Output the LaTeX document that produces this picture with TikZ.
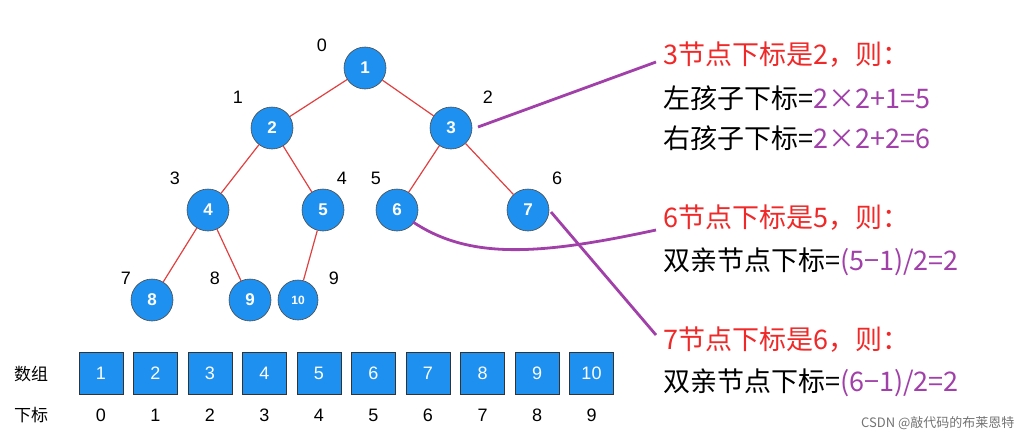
\documentclass[tikz,border=0pt]{standalone}
\usepackage{fontspec}
\setmainfont{Liberation Sans}
\newfontfamily\cjk{Noto Sans CJK SC}
\definecolor{nblue}{HTML}{1E90F0}
\definecolor{nred}{HTML}{F02828}
\definecolor{npur}{HTML}{A040A8}
\definecolor{edred}{HTML}{E04040}
\begin{document}
\begin{tikzpicture}[x=1pt,y=-1pt,
 tn/.style={circle,fill=nblue,draw=black!70,line width=0.6pt,minimum size=42pt,inner sep=0pt,text=white,font=\bfseries\fontsize{17}{17}\selectfont},
 ab/.style={rectangle,fill=nblue,draw=black!80,line width=0.8pt,minimum width=44pt,minimum height=42pt,inner sep=0pt,text=white,font=\fontsize{18}{18}\selectfont},
 idx/.style={font=\fontsize{18}{18}\selectfont},
 ed/.style={edred,line width=1.2pt},
 pl/.style={npur,line width=2.8pt},
 tx/.style={anchor=west,inner sep=0pt,font=\cjk\fontsize{27}{27}\selectfont}]
\useasboundingbox (0,0) rectangle (1031,442);
\node[tn] (n1) at (365,68) {1};
\node[tn] (n2) at (272,128) {2};
\node[tn] (n3) at (451,128) {3};
\node[tn] (n4) at (208,210) {4};
\node[tn] (n5) at (323,210) {5};
\node[tn] (n6) at (397,210) {6};
\node[tn] (n7) at (528,210) {7};
\node[tn] (n8) at (152,300) {8};
\node[tn] (n9) at (250,300) {9};
\node[tn,minimum size=40pt,font=\bfseries\fontsize{12}{12}\selectfont] (n10) at (298,300) {10};
\foreach \a/\b in {1/2,1/3,2/4,2/5,3/6,3/7,4/8,4/9,5/10} \draw[ed] (n\a) -- (n\b);
\foreach \t/\x/\y in {0/322/45,1/238/97,2/488/97,3/175/178,4/342/178,5/376/178,6/557/178,7/126/278,8/215/278,9/334/278}
 \node[idx] (l\t) at (\x,\y) {\t};
\foreach \i [evaluate=\i as \x using 101+54.5*(\i-1), evaluate=\i as \k using int(\i-1)] in {1,...,10} {
 \node[ab] (a\i) at (\x,373) {\i};
 \node[idx] (k\i) at (\x,415) {\k};
}
\node[font=\cjk\fontsize{17}{17}\selectfont] (sz) at (31,374) {数组};
\node[font=\cjk\fontsize{17}{17}\selectfont] (xb) at (31,415) {下标};
\node[tx,text=nred] (t1) at (663,55) {3节点下标是2，则：};
\node[tx] (t2) at (663,98) {左孩子下标=\textcolor{npur}{2×2+1=5}};
\node[tx] (t3) at (663,138) {右孩子下标=\textcolor{npur}{2×2+2=6}};
\node[tx,text=nred] (t4) at (663,218) {6节点下标是5，则：};
\node[tx] (t5) at (663,262) {双亲节点下标=\textcolor{npur}{(5−1)/2=2}};
\node[tx,text=nred] (t6) at (663,340) {7节点下标是6，则：};
\node[tx] (t7) at (663,383) {双亲节点下标=\textcolor{npur}{(6−1)/2=2}};
\coordinate (e1) at (656,62);
\coordinate (e2) at (656,230);
\coordinate (e3) at (656,335);
\coordinate (s1) at (478,127);
\coordinate (s2) at (413,222);
\coordinate (s3) at (551,212);
\draw[pl] (s1) -- (e1);
\draw[pl] (s2) .. controls (470,260) and (540,255) .. (e2);
\draw[pl] (s3) -- (e3);
\node[anchor=east,text=black!55,font=\cjk\fontsize{13}{13}\selectfont] (wm) at (1018,423) {CSDN @敲代码的布莱恩特};
\end{tikzpicture}
\end{document}
